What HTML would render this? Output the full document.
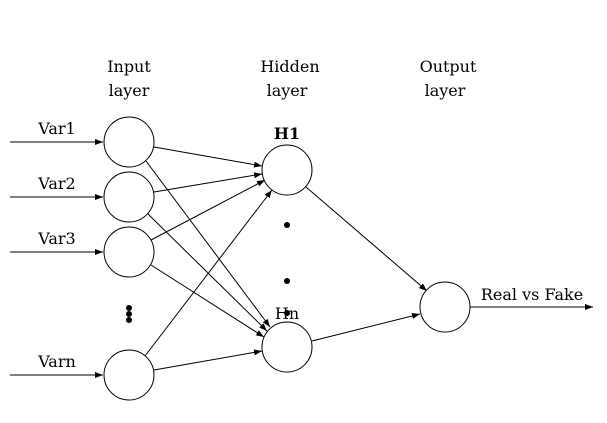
<!DOCTYPE html>
<html><head><style>body{margin:0;background:#fff}svg text{font-family:"DejaVu Serif",serif;font-size:16px;fill:#000}</style></head><body>
<svg width="607" height="418" viewBox="0 0 607 418" xmlns="http://www.w3.org/2000/svg">
<defs><marker id="a" markerWidth="8" markerHeight="6" refX="8" refY="3" orient="auto" markerUnits="userSpaceOnUse"><path d="M0,0 L8,3 L0,6 z" fill="#000"/></marker></defs>
<g text-anchor="middle">
<text x="129" y="72">Input</text><text x="129" y="96">layer</text>
<text x="290" y="72">Hidden</text><text x="287" y="96">layer</text>
<text x="448" y="72">Output</text><text x="445" y="96">layer</text>
<text x="287" y="139" font-weight="bold">H1</text>
<text x="287" y="319">Hn</text>
</g>
<g text-anchor="middle"><text x="57" y="134">Var1</text><text x="57" y="189">Var2</text><text x="57" y="244">Var3</text><text x="57" y="367">Varn</text></g>
<text x="532" y="300" text-anchor="middle">Real vs Fake</text>
<g stroke="#000" stroke-width="1" fill="none" marker-end="url(#a)">
<line x1="10" y1="142" x2="103" y2="142"/>
<line x1="10" y1="197" x2="103" y2="197"/>
<line x1="10" y1="252" x2="103" y2="252"/>
<line x1="10" y1="375" x2="103" y2="375"/>
<line x1="154" y1="147" x2="262" y2="166"/>
<line x1="154" y1="192" x2="262" y2="174"/>
<line x1="151" y1="240" x2="265" y2="180"/>
<line x1="145" y1="356" x2="272" y2="190"/>
<line x1="146" y1="161" x2="270" y2="327"/>
<line x1="148" y1="214" x2="267" y2="331"/>
<line x1="151" y1="265" x2="264" y2="337"/>
<line x1="154" y1="370" x2="262" y2="351"/>
<line x1="306" y1="187" x2="427" y2="291"/>
<line x1="312" y1="341" x2="420" y2="314"/>
<line x1="470" y1="307" x2="593" y2="307"/>
</g>
<g stroke="#000" stroke-width="1" fill="#fff">
<circle cx="129" cy="142" r="25"/><circle cx="129" cy="197" r="25"/><circle cx="129" cy="252" r="25"/><circle cx="129" cy="375" r="25"/>
<circle cx="287" cy="170" r="25"/><circle cx="287" cy="347" r="25"/><circle cx="445" cy="307" r="25"/>
</g>
<g fill="#000"><circle cx="129" cy="308" r="3"/><circle cx="129" cy="314" r="3"/><circle cx="129" cy="320" r="3"/>
<circle cx="287" cy="225" r="3"/><circle cx="287" cy="281" r="3"/><circle cx="287" cy="313" r="3"/></g>
</svg>
</body></html>
